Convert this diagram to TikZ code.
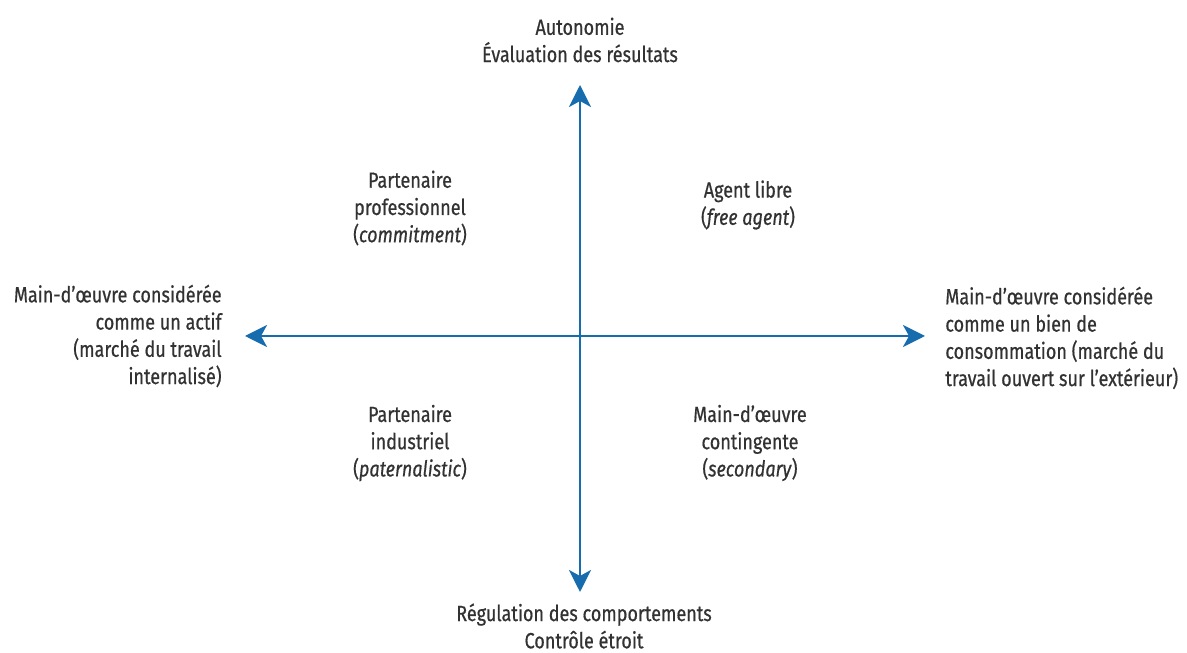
\documentclass[tikz,border=0pt]{standalone}
\usepackage{fontspec}
\setmainfont[FakeStretch=0.82, FakeBold=0.6]{Fira Sans}
\usepackage{xcolor}
\usepackage{tikz}
\usetikzlibrary{arrows.meta}

\definecolor{axeblue}{RGB}{22,108,172}
\definecolor{textgray}{RGB}{50,50,50}

\tikzset{
    axe/.style={draw=axeblue, line width=1.7pt, {Stealth[length=0.44cm, width=0.44cm, inset=0.12cm]}-{Stealth[length=0.44cm, width=0.44cm, inset=0.12cm]}},
    etiquette/.style={text=textgray, font=\fontsize{12.5}{15.5}\selectfont, inner sep=0pt, align=center}
}

\begin{document}
\begin{tikzpicture}
    \useasboundingbox (-11.6,-6.34) rectangle (12.14,6.72);

    % Axis ends
    \coordinate (centre) at (0,0);
    \coordinate (haut) at (0,5.02);
    \coordinate (bas) at (0,-5.12);
    \coordinate (gauche) at (-6.7,0);
    \coordinate (droite) at (6.9,0);

    % Axis labels
    \node[etiquette] (autonomie) at (0,5.92) {Autonomie\\Évaluation des résultats};
    \node[etiquette] (regulation) at (0.08,-5.8) {Régulation des comportements\\Contrôle étroit};
    \node[etiquette, align=right, anchor=east] (actif) at (-7.16,0) {Main-d’œuvre considérée\\comme un actif\\(marché du travail\\internalisé)};
    \node[etiquette, align=left, anchor=west] (consommation) at (7.3,-0.04) {Main-d’œuvre considérée\\comme un bien de\\consommation (marché du\\travail ouvert sur l’extérieur)};

    % Quadrants
    \node[etiquette] (professionnel) at (-3.4,2.56) {Partenaire\\professionnel\\(\textit{commitment})};
    \node[etiquette] (libre) at (3.36,2.62) {Agent libre\\(\textit{free agent})};
    \node[etiquette] (industriel) at (-3.4,-2.14) {Partenaire\\industriel\\(\textit{paternalistic})};
    \node[etiquette] (contingente) at (3.4,-2.14) {Main-d’œuvre\\contingente\\(\textit{secondary})};

    % Axes
    \draw[axe] (bas) -- (haut);
    \draw[axe] (gauche) -- (droite);
\end{tikzpicture}
\end{document}
